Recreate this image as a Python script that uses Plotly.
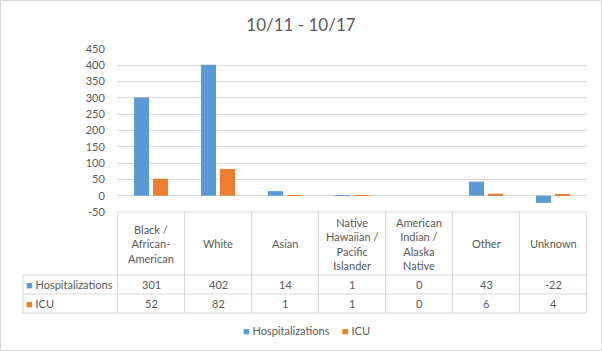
import plotly.graph_objects as go

categories = ["Black / African-American", "White", "Asian",
              "Native Hawaiian / Pacific Islander",
              "American Indian / Alaska Native", "Other", "Unknown"]
header_labels = ["Black /<br>African-<br>American", "White", "Asian",
                 "Native<br>Hawaiian /<br>Pacific<br>Islander",
                 "American<br>Indian /<br>Alaska<br>Native", "Other", "Unknown"]
hospitalizations = [301, 402, 14, 1, 0, 43, -22]
icu = [52, 82, 1, 1, 0, 6, 4]
series_names = ["Hospitalizations", "ICU"]
colors = ["#5B9BD5", "#ED7D31"]
title_text = "10/11 - 10/17"
y_ticks = [-50, 0, 50, 100, 150, 200, 250, 300, 350, 400, 450]

FONT = "Lato"
TXT = "#595959"
GRID = "#D9D9D9"

W, H = 602, 351
L, R, T, B = 117, 15, 49, 139
PH = H - T - B
PW = W - L - R

def py(pix):
    return (T + PH - pix) / PH

def px(pix):
    return (pix - L) / PW

fig = go.Figure()
for name, vals, c in zip(series_names, [hospitalizations, icu], colors):
    fig.add_trace(go.Bar(x=categories, y=vals, name=name, marker_color=c,
                         marker_line_width=0, showlegend=False))

shapes = []
annotations = []
n = len(categories)
y_top = py(212)
y_head = py(275)
y_r1 = py(294)
y_r2 = py(313)
line = dict(color=GRID, width=1)
for yy in [y_top, y_head]:
    shapes.append(dict(type="line", xref="x", yref="paper", x0=-0.5, x1=n - 0.5,
                       y0=yy, y1=yy, line=line, layer="above"))
for yy in [y_head, y_r1, y_r2]:
    shapes.append(dict(type="line", xref="paper", yref="paper", x0=px(23), x1=0,
                       y0=yy, y1=yy, line=line))
for yy in [y_r1, y_r2]:
    shapes.append(dict(type="line", xref="x", yref="paper", x0=-0.5, x1=n - 0.5,
                       y0=yy, y1=yy, line=line))
for i in range(n + 1):
    shapes.append(dict(type="line", xref="x", yref="paper", x0=i - 0.5, x1=i - 0.5,
                       y0=y_top, y1=y_r2, line=line))
shapes.append(dict(type="line", xref="paper", yref="paper", x0=px(23), x1=px(23),
                   y0=y_head, y1=y_r2, line=line))
shapes.append(dict(type="rect", xref="paper", yref="paper", x0=px(0.5), x1=px(601.5),
                   y0=py(350.5), y1=py(0.5), line=dict(color="#D9D9D9", width=1)))

tf = dict(family=FONT, size=11, color=TXT)
for cat, lab in zip(categories, header_labels):
    annotations.append(dict(x=cat, xref="x", y=(y_top + y_head) / 2, yref="paper",
                            text=lab, showarrow=False, font=tf, align="center",
                            yanchor="middle"))
for row_y, vals in [((y_head + y_r1) / 2, hospitalizations), ((y_r1 + y_r2) / 2, icu)]:
    for cat, v in zip(categories, vals):
        annotations.append(dict(x=cat, xref="x", y=row_y, yref="paper", text=str(v),
                                showarrow=False, font=tf, yanchor="middle"))
for row_y, name, c in [((y_head + y_r1) / 2, series_names[0], colors[0]),
                       ((y_r1 + y_r2) / 2, series_names[1], colors[1])]:
    annotations.append(dict(x=px(24), xref="paper", y=row_y, yref="paper",
                            xanchor="left", yanchor="middle", showarrow=False,
                            text=f"<span style='color:{c}'>■</span> {name}", font=tf))
for lx, name, c in [(241, series_names[0], colors[0]), (340, series_names[1], colors[1])]:
    annotations.append(dict(x=px(lx), xref="paper", y=py(330), yref="paper",
                            xanchor="left", yanchor="middle", showarrow=False,
                            text=f"<span style='color:{c}'>■</span> {name}", font=tf))

fig.update_layout(
    width=W, height=H,
    margin=dict(l=L, r=R, t=T, b=B),
    paper_bgcolor="white", plot_bgcolor="white",
    title=dict(text=title_text, x=0.5, xref="container", y=1 - 25 / H,
               yanchor="middle", font=dict(family=FONT, size=17, color=TXT)),
    barmode="group", bargap=0.433, bargroupgap=0.21,
    showlegend=False,
    shapes=shapes, annotations=annotations,
    font=dict(family=FONT, color=TXT),
)
fig.update_xaxes(showticklabels=False, showgrid=False, zeroline=False,
                 showline=False, ticks="")
fig.update_yaxes(range=[-50, 450], tickmode="array", tickvals=y_ticks,
                 ticktext=[str(v) for v in y_ticks],
                 showgrid=True, gridcolor=GRID,
                 gridwidth=1, zeroline=True, zerolinecolor=GRID, zerolinewidth=1,
                 showline=False, ticks="outside", ticklen=9,
                 tickcolor="rgba(0,0,0,0)", tickfont=tf)

fig.write_html("out.html")
